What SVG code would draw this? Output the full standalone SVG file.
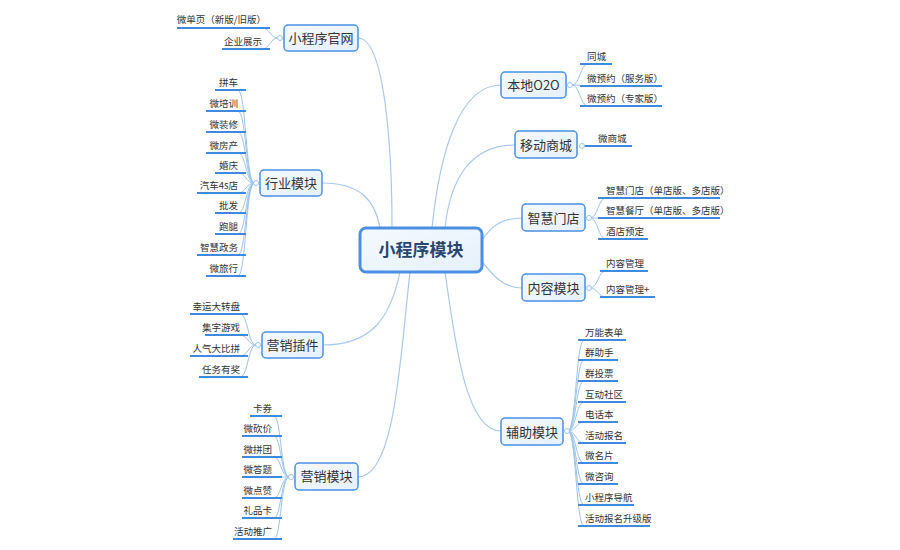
<svg xmlns="http://www.w3.org/2000/svg" width="900" height="550" viewBox="0 0 900 550">
<defs>
<linearGradient id="g" x1="0" y1="0" x2="1" y2="1"><stop offset="0" stop-color="#f4f9fe"/><stop offset="1" stop-color="#e6f1fc"/></linearGradient>
</defs>
<style>
.box{fill:url(#g);stroke:#4a90e2;stroke-width:1.5}
.bt{font-family:"Noto Sans CJK SC",sans-serif;font-size:13px;fill:#333;text-anchor:middle}
.lt{font-family:"Noto Sans CJK SC",sans-serif;font-size:9.5px;fill:#333}
.e{text-anchor:end}
.ul{stroke:#3f8ae0;stroke-width:2;fill:none}
.br{stroke:#9cc3ea;stroke-width:1;fill:none}
.cn{stroke:#a8c9ee;stroke-width:1.2;fill:none}
.cc{fill:#fff;stroke:#9cc3ea;stroke-width:1}
</style>
<rect width="900" height="550" fill="#fff"/>
<g id="connectors">
<path class="cn" d="M358,38 C385,38 392,150 392,228"/>
<path class="cn" d="M322,183 C360,183 375,200 380,228"/>
<path class="cn" d="M323,345 C370,345 390,320 400,272"/>
<path class="cn" d="M358,477 C395,477 400,360 410,272"/>
<path class="cn" d="M501,85 C460,85 440,150 432,228"/>
<path class="cn" d="M515,145 C470,145 450,180 445,228"/>
<path class="cn" d="M522,218 C500,218 490,228 482,240"/>
<path class="cn" d="M522,288 C500,288 490,270 482,262"/>
<path class="cn" d="M501,431 C465,431 455,340 445,272"/>
</g>
<g id="center">
<rect x="360" y="228" width="122" height="44" rx="6" fill="url(#g)" stroke="#4a90e2" stroke-width="3"/>
<text x="421" y="256" font-family="Noto Sans CJK SC,sans-serif" font-size="17" font-weight="bold" fill="#2b4571" text-anchor="middle">小程序模块</text>
</g>
<g id="n-guanwang">
<path class="br" d="M278,38 C270,38 270,28 262,28 M278,38 C270,38 270,49 262,49"/>
<path class="ul" d="M177,28 H270 M222,49 H270"/>
<circle class="cc" cx="280" cy="38" r="2.5"/>
<text class="lt e" x="266" y="23">微单页（新版/旧版）</text>
<text class="lt e" x="262" y="45">企业展示</text>
<rect class="box" x="284" y="25" width="74" height="26" rx="4"/><text class="bt" x="321" y="43">小程序官网</text>
</g>
<g id="n-hangye">
<path class="br" d="M254,183 C246,183 246,90 238,90 M254,183 C246,183 246,111 238,111 M254,183 C246,183 246,132 238,132 M254,183 C246,183 246,153 238,153 M254,183 C246,183 246,173 238,173 M254,183 C246,183 246,193 238,193 M254,183 C246,183 246,213 238,213 M254,183 C246,183 246,234 238,234 M254,183 C246,183 246,255 238,255 M254,183 C246,183 246,276 238,276"/>
<path class="ul" d="M215,90 H246 M206,111 H246 M206,132 H246 M206,153 H246 M215,173 H246 M197,193 H246 M215,213 H246 M215,234 H246 M197,255 H246 M206,276 H246"/>
<circle class="cc" cx="256" cy="183" r="2.5"/>
<g class="lt e">
<text class="lt e" x="238" y="86">拼车</text>
<text class="lt e" x="238" y="107">微培训</text>
<text class="lt e" x="238" y="128">微装修</text>
<text class="lt e" x="238" y="149">微房产</text>
<text class="lt e" x="238" y="169">婚庆</text>
<text class="lt e" x="238" y="189">汽车4s店</text>
<text class="lt e" x="238" y="209">批发</text>
<text class="lt e" x="238" y="230">跑腿</text>
<text class="lt e" x="238" y="251">智慧政务</text>
<text class="lt e" x="238" y="272">微旅行</text>
</g>
<rect class="box" x="260" y="170" width="62" height="26" rx="4"/><text class="bt" x="291" y="188">行业模块</text>
</g>
<g id="n-chajian">
<path class="br" d="M256,345 C248,345 248,314 240,314 M256,345 C248,345 248,335 240,335 M256,345 C248,345 248,356 240,356 M256,345 C248,345 248,377 240,377"/>
<path class="ul" d="M190,314 H248 M205,335 H248 M190,356 H248 M199,377 H248"/>
<circle class="cc" cx="258" cy="345" r="2.5"/>
<text class="lt e" x="240" y="310">幸运大转盘</text>
<text class="lt e" x="240" y="331">集字游戏</text>
<text class="lt e" x="240" y="352">人气大比拼</text>
<text class="lt e" x="240" y="373">任务有奖</text>
<rect class="box" x="262" y="332" width="61" height="26" rx="4"/><text class="bt" x="292.5" y="350">营销插件</text>
</g>
<g id="n-yingxiao">
<path class="br" d="M289,477 C281,477 281,416 274,416 M289,477 C281,477 281,436 274,436 M289,477 C281,477 281,457 274,457 M289,477 C281,477 281,477 274,477 M289,477 C281,477 281,498 274,498 M289,477 C281,477 281,518 274,518 M289,477 C281,477 281,539 274,539"/>
<path class="ul" d="M250,416 H282 M242,436 H282 M242,457 H282 M242,477 H282 M242,498 H282 M242,518 H282 M233,539 H282"/>
<circle class="cc" cx="291" cy="477" r="2.5"/>
<text class="lt e" x="272" y="412">卡券</text>
<text class="lt e" x="272" y="432">微砍价</text>
<text class="lt e" x="272" y="453">微拼团</text>
<text class="lt e" x="272" y="473">微答题</text>
<text class="lt e" x="272" y="494">微点赞</text>
<text class="lt e" x="272" y="514">礼品卡</text>
<text class="lt e" x="272" y="535">活动推广</text>
<rect class="box" x="295" y="463" width="63" height="27" rx="4"/><text class="bt" x="326.5" y="481">营销模块</text>
</g>
<g id="n-o2o">
<path class="br" d="M572,85 C580,85 580,64 588,64 M572,85 C580,85 580,86 588,86 M572,85 C580,85 580,106 588,106"/>
<path class="ul" d="M580,64 H612 M580,86 H662 M580,106 H662"/>
<circle class="cc" cx="570" cy="85" r="2.5"/>
<text class="lt" x="587" y="60">同城</text>
<text class="lt" x="587" y="82">微预约（服务版）</text>
<text class="lt" x="587" y="102">微预约（专家版）</text>
<rect class="box" x="501" y="72" width="65" height="26" rx="4"/><text class="bt" x="533.5" y="90">本地O2O</text>
</g>
<g id="n-shangcheng">
<path class="ul" d="M581,146 H632"/>
<circle class="cc" cx="582" cy="146" r="2.5"/>
<text class="lt" x="598" y="142">微商城</text>
<rect class="box" x="515" y="131" width="62" height="27" rx="4"/><text class="bt" x="546" y="150">移动商城</text>
</g>
<g id="n-mendian">
<path class="br" d="M590,218 C598,218 598,198 606,198 M590,218 C598,218 598,218 606,218 M590,218 C598,218 598,239 606,239"/>
<path class="ul" d="M598,198 H720 M598,218 H720 M598,239 H648"/>
<circle class="cc" cx="589" cy="218" r="2.5"/>
<text class="lt" x="606" y="194">智慧门店（单店版、多店版）</text>
<text class="lt" x="606" y="214">智慧餐厅（单店版、多店版）</text>
<text class="lt" x="606" y="235">酒店预定</text>
<rect class="box" x="522" y="204" width="63" height="27" rx="4"/><text class="bt" x="553.5" y="223">智慧门店</text>
</g>
<g id="n-neirong">
<path class="br" d="M590,288 C598,288 598,271 606,271 M590,288 C598,288 598,297 606,297"/>
<path class="ul" d="M600,271 H648 M600,297 H655"/>
<circle class="cc" cx="589" cy="288" r="2.5"/>
<text class="lt" x="606" y="267">内容管理</text>
<text class="lt" x="606" y="293">内容管理+</text>
<rect class="box" x="522" y="274" width="63" height="27" rx="4"/><text class="bt" x="553.5" y="293">内容模块</text>
</g>
<g id="n-fuzhu">
<path class="br" d="M568,431 C576,431 576,340 584,340 M568,431 C576,431 576,360 584,360 M568,431 C576,431 576,381 584,381 M568,431 C576,431 576,402 584,402 M568,431 C576,431 576,422 584,422 M568,431 C576,431 576,443 584,443 M568,431 C576,431 576,463 584,463 M568,431 C576,431 576,484 584,484 M568,431 C576,431 576,505 584,505 M568,431 C576,431 576,526 584,526"/>
<path class="ul" d="M578,340 H626 M578,360 H618 M578,381 H618 M578,402 H626 M578,422 H618 M578,443 H626 M578,463 H618 M578,484 H618 M578,505 H634 M578,526 H650"/>
<circle class="cc" cx="567" cy="431" r="2.5"/>
<text class="lt" x="585" y="336">万能表单</text>
<text class="lt" x="585" y="356">群助手</text>
<text class="lt" x="585" y="377">群投票</text>
<text class="lt" x="585" y="398">互动社区</text>
<text class="lt" x="585" y="418">电话本</text>
<text class="lt" x="585" y="439">活动报名</text>
<text class="lt" x="585" y="459">微名片</text>
<text class="lt" x="585" y="480">微咨询</text>
<text class="lt" x="585" y="501">小程序导航</text>
<text class="lt" x="585" y="522">活动报名升级版</text>
<rect class="box" x="501" y="418" width="62" height="27" rx="4"/><text class="bt" x="532" y="437">辅助模块</text>
</g>
</svg>
